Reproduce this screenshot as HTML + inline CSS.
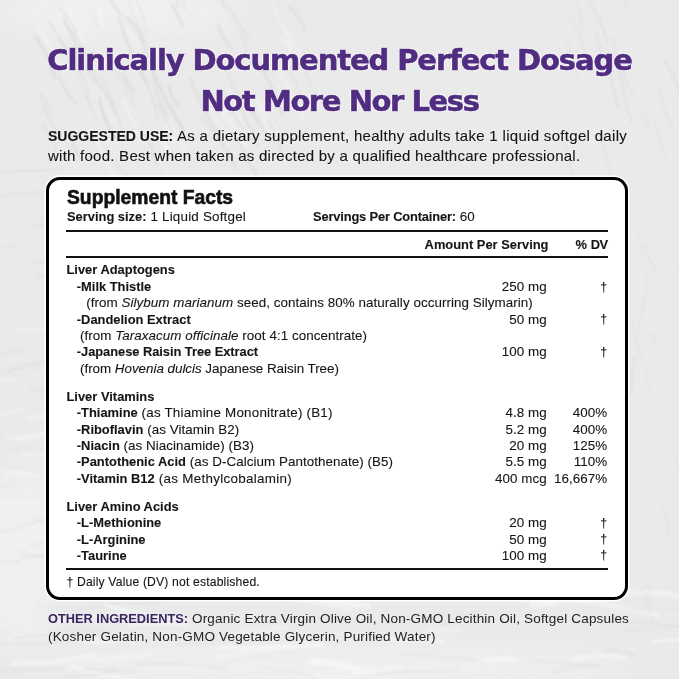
<!DOCTYPE html>
<html><head><meta charset="utf-8">
<style>
*{margin:0;padding:0;box-sizing:border-box}
html,body{width:679px;height:679px;overflow:hidden}
body{position:relative;background:#eaeaea;font-family:"Liberation Sans",Arial,sans-serif;color:#1b1b1b}
.bg{position:absolute;left:0;top:0;width:679px;height:679px}
.t{position:absolute;white-space:pre;line-height:1}
.h{font-family:"DejaVu Sans",sans-serif;font-weight:bold;color:#512d82;font-size:29px;letter-spacing:-1.1px;left:0;width:679px;text-align:center;-webkit-text-stroke:0.6px #512d82;transform-origin:339.5px 0;
 text-shadow:0 0 1px #fff,0 0 1px #fff,1px 0 0 #fff,-1px 0 0 #fff,0 1px 0 #fff,0 -1px 0 #fff}
.su{font-size:15px;left:48px;color:#141414;-webkit-text-stroke:0.15px #141414;text-shadow:0 0 1.5px #fff,0 0 1px #fff}
.box{position:absolute;left:46px;top:177px;width:582px;height:423px;border:3px solid #000;border-radius:14px;background:#fff;box-shadow:0 0 0 1.5px #fff}
.rule{position:absolute;left:65.5px;width:542px;height:2px;background:#111}
.sf{font-size:19.3px;letter-spacing:0;-webkit-text-stroke:.6px #111;font-weight:bold;left:67px;color:#111}
.r{font-size:13.4px;letter-spacing:.05px;color:#151515;-webkit-text-stroke:.1px #151515}
.r b,.b{font-weight:bold;font-size:12.9px;letter-spacing:0}
.amt{position:absolute;right:132.5px;text-align:right}
.dv{position:absolute;right:72px;text-align:right}
.oi{font-size:13.5px;left:48px;color:#222;letter-spacing:.18px}
.oi b{color:#3a2560;font-size:12.8px;letter-spacing:0}
</style></head><body>
<svg class="bg" width="679" height="679" viewBox="0 0 679 679">
  <defs>
    <filter id="b1" x="-20%" y="-20%" width="140%" height="140%"><feGaussianBlur stdDeviation="1.3"/></filter>
    <filter id="b12" x="-50%" y="-50%" width="200%" height="200%"><feGaussianBlur stdDeviation="14"/></filter>
  </defs>
  <rect width="679" height="679" fill="#eaeaea"/>
  <g filter="url(#b12)" fill="#f1f1f1" opacity="0.9">
    <ellipse cx="20" cy="560" rx="40" ry="90"/>
    <ellipse cx="330" cy="668" rx="300" ry="18"/>
    <ellipse cx="120" cy="10" rx="120" ry="25"/>
  </g>
  <g filter="url(#b1)" fill="none" stroke-linecap="round" transform="translate(0 0)" style="opacity:.85">
<path d="M232.2 634.9Q258.3 631.3 284.3 627.1" stroke="#fafafa" stroke-width="6.48" opacity="0.34"/>
<path d="M313.5 661.6Q336.9 661.7 358.5 670.5" stroke="#fafafa" stroke-width="6.56" opacity="0.69"/>
<path d="M308.3 594.8Q337.4 604.9 368.3 605.6" stroke="#fafafa" stroke-width="5.18" opacity="0.63"/>
<path d="M89.0 659.9Q120.4 660.4 150.9 652.7" stroke="#fafafa" stroke-width="6.07" opacity="0.37"/>
<path d="M128.3 625.6Q158.7 621.3 189.0 626.0" stroke="#fafafa" stroke-width="3.60" opacity="0.59"/>
<path d="M590.2 593.7Q635.6 589.3 680.7 596.0" stroke="#fafafa" stroke-width="6.12" opacity="0.35"/>
<path d="M387.7 639.0Q414.9 639.4 442.1 641.9" stroke="#fafafa" stroke-width="5.03" opacity="0.47"/>
<path d="M428.0 629.8Q444.0 630.8 459.9 628.9" stroke="#fafafa" stroke-width="4.62" opacity="0.39"/>
<path d="M499.2 659.4Q521.4 658.7 543.6 658.6" stroke="#fafafa" stroke-width="3.01" opacity="0.35"/>
<path d="M272.8 598.2Q308.1 591.8 343.6 596.4" stroke="#fafafa" stroke-width="5.25" opacity="0.33"/>
<path d="M478.8 659.2Q495.9 659.3 513.1 659.4" stroke="#fafafa" stroke-width="4.15" opacity="0.68"/>
<path d="M72.6 666.3Q115.2 679.1 159.3 684.6" stroke="#fafafa" stroke-width="3.37" opacity="0.69"/>
<path d="M314.5 675.1Q335.1 682.3 357.0 682.6" stroke="#fafafa" stroke-width="6.51" opacity="0.33"/>
<path d="M218.6 657.3Q268.6 647.4 319.3 642.8" stroke="#fafafa" stroke-width="6.02" opacity="0.36"/>
<path d="M321.5 671.9Q346.8 668.8 372.2 665.7" stroke="#fafafa" stroke-width="3.91" opacity="0.31"/>
<path d="M103.8 604.3Q144.4 616.7 186.8 619.7" stroke="#fafafa" stroke-width="3.26" opacity="0.61"/>
<path d="M58.3 637.2Q87.3 643.4 116.9 640.6" stroke="#fafafa" stroke-width="4.91" opacity="0.53"/>
<path d="M580.1 599.3Q619.7 606.3 658.8 615.8" stroke="#fafafa" stroke-width="5.93" opacity="0.41"/>
<path d="M653.5 641.4Q699.0 638.0 744.6 636.1" stroke="#fafafa" stroke-width="3.30" opacity="0.60"/>
<path d="M12.8 663.0Q53.8 664.6 93.5 654.6" stroke="#fafafa" stroke-width="5.03" opacity="0.57"/>
<path d="M192.6 590.2Q213.4 587.5 233.8 582.0" stroke="#fafafa" stroke-width="4.39" opacity="0.51"/>
<path d="M589.0 601.8Q629.2 591.4 670.7 592.4" stroke="#fafafa" stroke-width="2.57" opacity="0.44"/>
<path d="M52.3 621.8Q90.5 618.4 128.5 612.9" stroke="#fafafa" stroke-width="3.42" opacity="0.55"/>
<path d="M302.9 602.0Q328.0 602.4 351.6 611.0" stroke="#fafafa" stroke-width="2.96" opacity="0.56"/>
<path d="M572.5 659.6Q597.8 652.7 623.6 657.5" stroke="#fafafa" stroke-width="5.29" opacity="0.52"/>
<path d="M218.2 647.5Q270.8 649.0 323.2 645.0" stroke="#fafafa" stroke-width="3.60" opacity="0.66"/>
<path d="M9.9 637.3Q34.2 631.0 58.9 635.4" stroke="#fafafa" stroke-width="5.87" opacity="0.30"/>
<path d="M354.6 673.7Q377.5 671.6 400.1 666.9" stroke="#fafafa" stroke-width="4.71" opacity="0.56"/>
<path d="M533.1 605.5Q559.6 598.0 586.9 601.2" stroke="#fafafa" stroke-width="6.32" opacity="0.61"/>
<path d="M466.5 590.6Q510.9 596.6 555.2 603.4" stroke="#fafafa" stroke-width="5.70" opacity="0.48"/>
<path d="M91.0 -2.1Q98.4 6.2 102.5 16.6" stroke="#f7f7f7" stroke-width="4.45" opacity="0.51"/>
<path d="M258.2 101.0Q271.2 121.0 282.8 141.9" stroke="#f7f7f7" stroke-width="4.56" opacity="0.46"/>
<path d="M101.6 89.1Q102.8 105.2 112.4 118.0" stroke="#f7f7f7" stroke-width="2.58" opacity="0.38"/>
<path d="M93.7 106.5Q105.9 132.5 114.1 160.0" stroke="#f7f7f7" stroke-width="4.79" opacity="0.40"/>
<path d="M94.6 134.3Q104.6 159.8 118.1 183.6" stroke="#f7f7f7" stroke-width="5.05" opacity="0.44"/>
<path d="M256.7 98.6Q262.1 119.0 272.5 137.4" stroke="#f7f7f7" stroke-width="4.01" opacity="0.39"/>
<path d="M87.2 85.8Q109.0 110.7 123.7 140.3" stroke="#f7f7f7" stroke-width="2.62" opacity="0.33"/>
<path d="M280.8 38.6Q291.3 44.6 292.5 56.6" stroke="#f7f7f7" stroke-width="4.32" opacity="0.49"/>
<path d="M218.2 105.3Q233.4 124.9 245.9 146.3" stroke="#f7f7f7" stroke-width="4.64" opacity="0.55"/>
<path d="M270.6 -8.8Q278.0 23.7 295.2 52.2" stroke="#f7f7f7" stroke-width="2.82" opacity="0.36"/>
<path d="M60.2 -14.1Q70.2 14.5 83.2 41.9" stroke="#f7f7f7" stroke-width="4.66" opacity="0.49"/>
<path d="M107.6 -3.0Q126.5 19.1 139.6 45.2" stroke="#f7f7f7" stroke-width="3.37" opacity="0.43"/>
<path d="M35.6 23.6Q51.3 46.8 64.2 71.6" stroke="#f7f7f7" stroke-width="3.37" opacity="0.59"/>
<path d="M166.0 124.7Q171.6 134.0 175.4 144.1" stroke="#f7f7f7" stroke-width="3.65" opacity="0.53"/>
<path d="M123.6 99.8Q126.7 115.5 137.6 127.3" stroke="#f7f7f7" stroke-width="2.79" opacity="0.55"/>
<path d="M76.0 -19.8Q86.5 7.9 106.8 29.5" stroke="#f7f7f7" stroke-width="2.57" opacity="0.45"/>
<path d="M162.7 115.5Q176.2 133.4 186.6 153.3" stroke="#f7f7f7" stroke-width="4.67" opacity="0.38"/>
<path d="M284.8 28.2Q299.3 51.6 313.8 75.0" stroke="#f7f7f7" stroke-width="2.82" opacity="0.49"/>
<path d="M51.8 113.9Q62.8 141.6 76.5 167.9" stroke="#f7f7f7" stroke-width="3.45" opacity="0.42"/>
<path d="M136.5 131.4Q159.2 155.0 172.3 185.0" stroke="#f7f7f7" stroke-width="3.08" opacity="0.38"/>
<path d="M273.3 65.2Q291.8 91.6 304.8 121.2" stroke="#f7f7f7" stroke-width="3.72" opacity="0.46"/>
<path d="M233.7 108.0Q243.6 124.0 249.7 141.8" stroke="#f7f7f7" stroke-width="2.94" opacity="0.55"/>
<path d="M208.8 106.1Q217.3 125.6 231.3 141.5" stroke="#f7f7f7" stroke-width="4.03" opacity="0.34"/>
<path d="M154.7 130.5Q164.5 141.8 170.2 155.7" stroke="#f7f7f7" stroke-width="4.33" opacity="0.55"/>
<path d="M71.7 6.5Q80.9 22.2 90.6 37.6" stroke="#f7f7f7" stroke-width="2.96" opacity="0.40"/>
<path d="M-8.6 592.5Q2.4 597.6 14.2 595.3" stroke="#f7f7f7" stroke-width="2.80" opacity="0.42"/>
<path d="M39.0 538.5Q55.7 538.1 71.8 542.5" stroke="#f7f7f7" stroke-width="4.18" opacity="0.33"/>
<path d="M-7.6 416.5Q8.5 414.9 23.4 408.8" stroke="#f7f7f7" stroke-width="4.32" opacity="0.45"/>
<path d="M17.9 439.0Q36.5 434.7 55.4 431.9" stroke="#f7f7f7" stroke-width="4.44" opacity="0.57"/>
<path d="M5.8 472.2Q22.3 472.2 38.2 476.4" stroke="#f7f7f7" stroke-width="4.39" opacity="0.56"/>
<path d="M26.4 510.0Q46.1 514.8 66.1 517.4" stroke="#f7f7f7" stroke-width="3.71" opacity="0.39"/>
<path d="M17.7 329.4Q39.5 330.1 61.1 327.5" stroke="#f7f7f7" stroke-width="4.15" opacity="0.38"/>
<path d="M5.4 436.6Q21.4 439.0 37.6 438.6" stroke="#f7f7f7" stroke-width="4.93" opacity="0.35"/>
<path d="M19.3 533.5Q36.8 536.2 53.9 531.4" stroke="#f7f7f7" stroke-width="2.65" opacity="0.46"/>
<path d="M-10.3 534.5Q7.7 535.5 24.3 542.7" stroke="#f7f7f7" stroke-width="4.01" opacity="0.46"/>
<path d="M23.0 453.7Q45.4 455.5 67.8 456.9" stroke="#f7f7f7" stroke-width="3.60" opacity="0.58"/>
<path d="M-7.4 505.3Q13.8 501.1 35.4 502.9" stroke="#f7f7f7" stroke-width="5.07" opacity="0.41"/>
<path d="M-16.6 382.3Q-6.5 381.1 3.8 381.2" stroke="#f7f7f7" stroke-width="3.62" opacity="0.51"/>
<path d="M1.1 379.5Q22.5 380.0 42.9 373.5" stroke="#f7f7f7" stroke-width="3.89" opacity="0.37"/>
<path d="M28.1 417.6Q40.2 418.0 51.7 414.0" stroke="#f7f7f7" stroke-width="4.61" opacity="0.49"/>
<path d="M117.4 5.6Q122.1 16.5 127.5 27.0" stroke="#cfcfcf" stroke-width="1.65" opacity="0.27"/>
<path d="M167.0 -13.6Q176.9 -5.6 178.2 7.0" stroke="#cfcfcf" stroke-width="1.73" opacity="0.54"/>
<path d="M63.4 18.0Q77.1 48.7 92.5 78.7" stroke="#cfcfcf" stroke-width="1.70" opacity="0.59"/>
<path d="M42.6 125.9Q53.5 135.3 56.5 149.3" stroke="#cfcfcf" stroke-width="1.55" opacity="0.54"/>
<path d="M78.8 78.9Q86.6 96.6 95.4 113.8" stroke="#cfcfcf" stroke-width="1.12" opacity="0.27"/>
<path d="M85.6 95.7Q93.2 111.8 102.7 127.0" stroke="#cfcfcf" stroke-width="1.78" opacity="0.35"/>
<path d="M244.5 98.8Q256.9 119.8 269.8 140.4" stroke="#cfcfcf" stroke-width="2.52" opacity="0.51"/>
<path d="M107.7 146.6Q116.4 165.4 130.2 180.8" stroke="#cfcfcf" stroke-width="1.27" opacity="0.42"/>
<path d="M40.6 93.6Q46.2 117.7 60.0 138.2" stroke="#cfcfcf" stroke-width="1.55" opacity="0.49"/>
<path d="M190.5 78.6Q200.4 108.4 219.7 133.2" stroke="#cfcfcf" stroke-width="1.82" opacity="0.48"/>
<path d="M46.4 99.3Q57.8 132.4 76.1 162.2" stroke="#cfcfcf" stroke-width="1.50" opacity="0.39"/>
<path d="M210.5 -16.2Q221.3 -5.8 223.9 8.9" stroke="#cfcfcf" stroke-width="1.12" opacity="0.52"/>
<path d="M64.9 22.1Q84.8 47.4 95.9 77.6" stroke="#cfcfcf" stroke-width="1.78" opacity="0.44"/>
<path d="M268.5 119.3Q275.8 134.6 281.2 150.7" stroke="#cfcfcf" stroke-width="1.63" opacity="0.56"/>
<path d="M288.6 5.7Q299.7 17.3 305.5 32.3" stroke="#cfcfcf" stroke-width="1.84" opacity="0.46"/>
<path d="M100.9 -19.3Q109.5 -2.1 119.4 14.4" stroke="#cfcfcf" stroke-width="2.63" opacity="0.49"/>
<path d="M169.2 85.0Q169.6 97.3 178.7 105.6" stroke="#cfcfcf" stroke-width="2.35" opacity="0.56"/>
<path d="M245.4 46.7Q250.1 58.5 257.6 68.7" stroke="#cfcfcf" stroke-width="1.12" opacity="0.27"/>
<path d="M86.4 7.6Q97.2 14.4 97.6 27.2" stroke="#cfcfcf" stroke-width="1.27" opacity="0.29"/>
<path d="M128.2 -15.7Q141.5 6.3 147.1 31.4" stroke="#cfcfcf" stroke-width="1.44" opacity="0.37"/>
<path d="M128.3 0.9Q141.9 33.0 154.7 65.3" stroke="#cfcfcf" stroke-width="1.84" opacity="0.28"/>
<path d="M57.6 38.2Q76.9 62.5 89.3 90.9" stroke="#cfcfcf" stroke-width="1.05" opacity="0.58"/>
<path d="M172.6 4.9Q177.2 14.6 182.3 24.0" stroke="#cfcfcf" stroke-width="2.69" opacity="0.55"/>
<path d="M218.0 24.4Q222.1 38.3 231.9 49.1" stroke="#cfcfcf" stroke-width="1.92" opacity="0.52"/>
<path d="M119.0 17.9Q128.5 51.5 145.9 81.7" stroke="#cfcfcf" stroke-width="2.40" opacity="0.54"/>
<path d="M229.8 18.5Q243.4 32.8 247.1 52.1" stroke="#cfcfcf" stroke-width="1.07" opacity="0.35"/>
<path d="M100.0 97.7Q102.5 119.4 114.9 137.4" stroke="#cfcfcf" stroke-width="2.70" opacity="0.58"/>
<path d="M128.5 17.5Q139.3 28.3 144.1 42.9" stroke="#cfcfcf" stroke-width="2.07" opacity="0.57"/>
<path d="M256.9 61.5Q274.2 86.5 282.5 115.8" stroke="#cfcfcf" stroke-width="2.14" opacity="0.57"/>
<path d="M241.2 107.5Q244.9 121.9 254.7 133.1" stroke="#cfcfcf" stroke-width="1.58" opacity="0.53"/>
<path d="M292.3 47.3Q306.3 78.1 325.0 106.2" stroke="#cfcfcf" stroke-width="1.31" opacity="0.29"/>
<path d="M70.8 133.8Q72.5 147.9 81.4 159.0" stroke="#cfcfcf" stroke-width="2.69" opacity="0.48"/>
<path d="M124.6 73.3Q125.5 85.0 135.9 90.6" stroke="#cfcfcf" stroke-width="2.12" opacity="0.43"/>
<path d="M282.1 53.7Q296.7 80.9 305.0 110.6" stroke="#cfcfcf" stroke-width="1.44" opacity="0.35"/>
<path d="M94.9 79.7Q109.3 94.9 116.1 114.8" stroke="#cfcfcf" stroke-width="2.57" opacity="0.37"/>
<path d="M153.7 79.2Q156.5 100.1 168.7 117.4" stroke="#cfcfcf" stroke-width="1.87" opacity="0.44"/>
<path d="M171.3 -16.8Q183.5 -6.8 185.2 8.8" stroke="#cfcfcf" stroke-width="2.38" opacity="0.31"/>
<path d="M157.8 103.3Q165.8 119.6 174.1 135.7" stroke="#cfcfcf" stroke-width="1.97" opacity="0.52"/>
<path d="M58.6 75.3Q64.6 91.4 76.2 104.2" stroke="#cfcfcf" stroke-width="1.89" opacity="0.45"/>
<path d="M235.2 135.1Q247.2 157.4 259.2 179.7" stroke="#cfcfcf" stroke-width="1.89" opacity="0.49"/>
<path d="M152.1 70.7Q165.7 101.4 183.4 130.0" stroke="#cfcfcf" stroke-width="2.52" opacity="0.58"/>
<path d="M100.1 75.1Q115.2 102.5 122.2 133.1" stroke="#cfcfcf" stroke-width="1.22" opacity="0.40"/>
<path d="M49.6 20.9Q61.7 45.0 79.4 65.3" stroke="#cfcfcf" stroke-width="2.55" opacity="0.30"/>
<path d="M223.4 92.2Q236.0 122.2 258.2 146.1" stroke="#cfcfcf" stroke-width="1.39" opacity="0.58"/>
<path d="M137.5 62.8Q152.0 90.4 158.8 120.7" stroke="#cfcfcf" stroke-width="1.75" opacity="0.43"/>
<path d="M121.6 13.3Q140.7 34.6 149.8 61.8" stroke="#cfcfcf" stroke-width="1.95" opacity="0.40"/>
<path d="M34.9 36.4Q49.5 54.7 54.6 77.5" stroke="#cfcfcf" stroke-width="2.70" opacity="0.53"/>
<path d="M292.4 -2.2Q295.2 9.0 303.7 16.6" stroke="#cfcfcf" stroke-width="1.48" opacity="0.30"/>
<path d="M144.0 134.9Q154.2 148.5 156.7 165.3" stroke="#cfcfcf" stroke-width="2.58" opacity="0.45"/>
<path d="M219.1 -4.8Q235.1 17.2 249.6 40.2" stroke="#cfcfcf" stroke-width="1.14" opacity="0.58"/>
<path d="M201.3 116.3Q223.1 139.5 236.2 168.5" stroke="#cfcfcf" stroke-width="2.48" opacity="0.41"/>
<path d="M121.6 74.0Q131.7 88.0 133.6 105.2" stroke="#cfcfcf" stroke-width="1.92" opacity="0.33"/>
<path d="M59.6 7.4Q69.9 18.6 76.5 32.3" stroke="#cfcfcf" stroke-width="1.55" opacity="0.52"/>
<path d="M108.3 65.0Q123.2 77.7 128.3 96.6" stroke="#cfcfcf" stroke-width="1.44" opacity="0.26"/>
<path d="M227.9 73.7Q235.2 95.0 251.2 110.7" stroke="#cfcfcf" stroke-width="1.21" opacity="0.54"/>
<path d="M611.4 79.1Q614.7 93.1 618.0 107.1" stroke="#d2d2d2" stroke-width="1.95" opacity="0.50"/>
<path d="M600.8 139.8Q606.8 157.5 611.0 175.7" stroke="#d2d2d2" stroke-width="1.50" opacity="0.26"/>
<path d="M575.4 2.7Q581.8 13.4 581.7 25.8" stroke="#d2d2d2" stroke-width="1.14" opacity="0.46"/>
<path d="M663.6 110.7Q670.3 120.5 673.3 132.1" stroke="#d2d2d2" stroke-width="1.65" opacity="0.29"/>
<path d="M613.1 37.4Q617.2 61.6 622.2 85.6" stroke="#d2d2d2" stroke-width="1.36" opacity="0.49"/>
<path d="M596.8 54.2Q604.1 66.3 611.0 78.7" stroke="#d2d2d2" stroke-width="1.70" opacity="0.30"/>
<path d="M620.1 -9.1Q624.8 -1.3 627.6 7.4" stroke="#d2d2d2" stroke-width="1.07" opacity="0.26"/>
<path d="M596.2 31.9Q599.1 48.6 606.7 63.7" stroke="#d2d2d2" stroke-width="1.92" opacity="0.43"/>
<path d="M664.6 60.1Q677.7 81.4 684.3 105.5" stroke="#d2d2d2" stroke-width="2.01" opacity="0.41"/>
<path d="M565.2 140.4Q566.8 158.9 573.0 176.5" stroke="#d2d2d2" stroke-width="2.12" opacity="0.28"/>
<path d="M622.3 80.8Q624.1 102.5 632.3 122.8" stroke="#d2d2d2" stroke-width="1.82" opacity="0.47"/>
<path d="M641.3 114.8Q648.0 120.5 648.2 129.3" stroke="#d2d2d2" stroke-width="1.51" opacity="0.28"/>
<path d="M659.5 90.5Q663.3 108.7 670.5 125.8" stroke="#d2d2d2" stroke-width="1.68" opacity="0.25"/>
<path d="M654.9 124.7Q659.2 141.1 666.4 156.4" stroke="#d2d2d2" stroke-width="1.10" opacity="0.43"/>
<path d="M590.0 3.4Q601.2 20.6 606.9 40.2" stroke="#d2d2d2" stroke-width="2.02" opacity="0.49"/>
<path d="M618.8 58.9Q623.1 78.0 632.4 95.3" stroke="#d2d2d2" stroke-width="1.85" opacity="0.41"/>
<path d="M569.2 16.5Q579.6 34.3 586.5 53.7" stroke="#d2d2d2" stroke-width="1.78" opacity="0.25"/>
<path d="M567.2 38.4Q571.1 57.7 578.4 76.0" stroke="#d2d2d2" stroke-width="1.41" opacity="0.38"/>
<path d="M7.9 370.5Q30.4 363.8 53.9 361.7" stroke="#d4d4d4" stroke-width="2.35" opacity="0.48"/>
<path d="M-18.9 367.4Q5.0 372.8 28.7 379.0" stroke="#d4d4d4" stroke-width="1.38" opacity="0.30"/>
<path d="M36.7 260.6Q48.8 261.9 60.9 262.9" stroke="#d4d4d4" stroke-width="2.31" opacity="0.28"/>
<path d="M29.2 388.8Q49.6 392.4 68.7 400.1" stroke="#d4d4d4" stroke-width="2.24" opacity="0.37"/>
<path d="M-18.5 171.5Q-1.7 170.6 15.0 172.8" stroke="#d4d4d4" stroke-width="1.21" opacity="0.34"/>
<path d="M-1.0 531.3Q20.2 528.4 40.0 520.3" stroke="#d4d4d4" stroke-width="1.19" opacity="0.48"/>
<path d="M22.8 557.7Q38.2 555.5 53.8 555.0" stroke="#d4d4d4" stroke-width="2.38" opacity="0.40"/>
<path d="M1.6 354.1Q12.0 349.9 23.0 352.1" stroke="#d4d4d4" stroke-width="2.16" opacity="0.32"/>
<path d="M36.1 277.2Q53.5 273.0 71.3 273.7" stroke="#d4d4d4" stroke-width="1.53" opacity="0.49"/>
<path d="M33.1 519.1Q56.1 525.6 80.1 525.0" stroke="#d4d4d4" stroke-width="1.77" opacity="0.43"/>
<path d="M-17.0 484.9Q4.2 486.4 25.5 485.5" stroke="#d4d4d4" stroke-width="1.41" opacity="0.26"/>
<path d="M35.6 224.7Q50.8 223.5 65.9 225.6" stroke="#d4d4d4" stroke-width="2.02" opacity="0.49"/>
<path d="M-4.4 452.1Q13.8 449.8 32.2 449.2" stroke="#d4d4d4" stroke-width="1.24" opacity="0.29"/>
<path d="M-7.5 559.6Q5.6 563.4 19.0 560.7" stroke="#d4d4d4" stroke-width="2.38" opacity="0.36"/>
<path d="M-11.6 252.7Q2.5 246.4 18.0 246.5" stroke="#d4d4d4" stroke-width="1.34" opacity="0.31"/>
<path d="M14.2 551.5Q30.2 554.0 45.9 557.8" stroke="#d4d4d4" stroke-width="1.73" opacity="0.34"/>
<path d="M0.3 196.7Q24.4 191.4 49.1 192.2" stroke="#d4d4d4" stroke-width="1.70" opacity="0.41"/>
<path d="M31.8 262.9Q45.4 260.7 59.1 260.2" stroke="#d4d4d4" stroke-width="1.63" opacity="0.49"/>
<path d="M30.9 545.3Q41.5 544.4 51.2 540.2" stroke="#d4d4d4" stroke-width="2.24" opacity="0.37"/>
<path d="M15.2 170.1Q39.2 172.1 63.0 169.0" stroke="#d4d4d4" stroke-width="2.18" opacity="0.49"/>
<path d="M643.7 243.6Q648.0 257.0 655.0 269.3" stroke="#d4d4d4" stroke-width="1.97" opacity="0.38"/>
<path d="M662.4 505.9Q669.0 519.3 668.3 534.1" stroke="#d4d4d4" stroke-width="1.82" opacity="0.26"/>
<path d="M675.2 458.2Q679.9 466.3 680.8 475.5" stroke="#d4d4d4" stroke-width="1.67" opacity="0.37"/>
<path d="M637.3 228.1Q640.5 242.6 641.9 257.3" stroke="#d4d4d4" stroke-width="1.24" opacity="0.35"/>
<path d="M632.5 320.6Q635.3 339.9 640.3 358.8" stroke="#d4d4d4" stroke-width="1.92" opacity="0.32"/>
<path d="M643.0 298.8Q642.2 315.2 638.3 331.1" stroke="#d4d4d4" stroke-width="1.04" opacity="0.32"/>
<path d="M663.7 368.0Q665.8 384.1 674.4 397.8" stroke="#d4d4d4" stroke-width="1.26" opacity="0.21"/>
<path d="M647.9 368.2Q646.0 378.3 648.8 388.2" stroke="#d4d4d4" stroke-width="1.77" opacity="0.33"/>
<path d="M641.6 587.9Q649.0 604.2 652.3 621.8" stroke="#d4d4d4" stroke-width="1.24" opacity="0.39"/>
<path d="M645.9 580.8Q649.8 590.1 649.3 600.1" stroke="#d4d4d4" stroke-width="1.44" opacity="0.37"/>
<path d="M676.6 258.6Q675.4 269.3 681.6 278.3" stroke="#d4d4d4" stroke-width="1.17" opacity="0.21"/>
<path d="M634.8 357.3Q631.1 375.6 631.0 394.2" stroke="#d4d4d4" stroke-width="2.04" opacity="0.43"/>
<path d="M647.5 274.2Q649.0 291.4 643.1 307.6" stroke="#d4d4d4" stroke-width="1.70" opacity="0.29"/>
<path d="M649.6 332.7Q654.2 338.9 655.5 346.5" stroke="#d4d4d4" stroke-width="1.38" opacity="0.44"/>
<path d="M64.1 676.2Q90.0 676.8 115.3 670.9" stroke="#d6d6d6" stroke-width="2.75" opacity="0.31"/>
<path d="M13.5 637.4Q55.9 632.4 98.6 633.6" stroke="#d6d6d6" stroke-width="1.97" opacity="0.42"/>
<path d="M0.6 632.5Q38.9 632.0 76.1 640.7" stroke="#d6d6d6" stroke-width="1.41" opacity="0.22"/>
<path d="M605.7 620.3Q647.6 622.3 689.3 627.5" stroke="#d6d6d6" stroke-width="1.82" opacity="0.44"/>
<path d="M399.5 620.7Q424.1 620.3 448.4 624.4" stroke="#d6d6d6" stroke-width="1.36" opacity="0.39"/>
<path d="M603.2 650.1Q619.1 649.9 634.3 654.9" stroke="#d6d6d6" stroke-width="2.18" opacity="0.44"/>
<path d="M628.7 630.5Q656.4 628.0 684.2 625.7" stroke="#d6d6d6" stroke-width="2.94" opacity="0.25"/>
<path d="M525.7 658.3Q563.6 663.7 601.6 666.9" stroke="#d6d6d6" stroke-width="1.92" opacity="0.28"/>
<path d="M226.1 661.8Q247.1 661.2 267.5 655.7" stroke="#d6d6d6" stroke-width="1.78" opacity="0.22"/>
<path d="M3.0 643.7Q47.6 644.8 91.7 638.3" stroke="#d6d6d6" stroke-width="3.04" opacity="0.27"/>
<path d="M37.2 607.6Q73.5 607.1 109.8 607.6" stroke="#d6d6d6" stroke-width="1.75" opacity="0.30"/>
<path d="M401.8 653.3Q441.9 658.4 482.3 660.2" stroke="#d6d6d6" stroke-width="1.56" opacity="0.41"/>
<path d="M179.8 644.8Q216.7 640.1 254.0 641.5" stroke="#d6d6d6" stroke-width="1.78" opacity="0.26"/>
<path d="M84.3 669.8Q109.1 669.5 133.8 671.2" stroke="#d6d6d6" stroke-width="3.04" opacity="0.33"/>
<path d="M137.3 663.9Q182.2 662.3 226.7 668.7" stroke="#d6d6d6" stroke-width="2.16" opacity="0.40"/>
<path d="M551.6 672.2Q574.5 664.7 598.6 664.6" stroke="#d6d6d6" stroke-width="1.68" opacity="0.44"/>
<path d="M376.6 673.5Q417.5 671.1 458.5 669.8" stroke="#d6d6d6" stroke-width="1.80" opacity="0.39"/>
<path d="M623.1 608.4Q656.8 606.7 690.2 610.6" stroke="#d6d6d6" stroke-width="1.99" opacity="0.24"/>
<path d="M118.7 620.1Q153.3 618.4 187.8 622.5" stroke="#d6d6d6" stroke-width="1.38" opacity="0.28"/>
<path d="M441.3 614.6Q462.5 616.2 483.4 611.9" stroke="#d6d6d6" stroke-width="2.29" opacity="0.22"/>
<path d="M48.9 631.2Q83.2 627.7 117.3 632.4" stroke="#d6d6d6" stroke-width="1.63" opacity="0.37"/>
<path d="M258.7 622.4Q302.0 617.6 345.7 616.5" stroke="#d6d6d6" stroke-width="2.33" opacity="0.29"/>
<path d="M263.2 668.3Q289.2 669.8 314.2 677.2" stroke="#d6d6d6" stroke-width="2.60" opacity="0.25"/>
<path d="M-16.0 671.2Q23.6 669.2 63.2 669.1" stroke="#d6d6d6" stroke-width="2.86" opacity="0.32"/>
<path d="M90.5 601.2Q124.7 605.9 159.0 602.4" stroke="#d6d6d6" stroke-width="1.51" opacity="0.36"/>
  </g>
</svg>

<div class="t h" style="top:46px">Clinically Documented Perfect Dosage</div>
<div class="t h" style="top:87.2px;letter-spacing:-1.43px">Not More Nor Less</div>

<div class="t su" style="top:128.3px;letter-spacing:0.31px"><b style="font-size:14px;letter-spacing:0">SUGGESTED USE:</b> As a dietary supplement, healthy adults take 1 liquid softgel daily</div>
<div class="t su" style="top:148.3px;letter-spacing:0.25px">with food. Best when taken as directed by a qualified healthcare professional.</div>

<div class="box"></div>

<div class="t sf" style="top:187.9px">Supplement Facts</div>
<div class="t r" style="top:210px;left:67px;letter-spacing:.2px"><b>Serving size:</b> 1 Liquid Softgel</div>
<div class="t r" style="top:210px;left:313px"><b style="letter-spacing:-.17px">Servings Per Container:</b> 60</div>
<div class="rule" style="top:229.5px"></div>
<div class="t r b" style="top:238.6px;left:0;width:548.5px;text-align:right">Amount Per Serving</div>
<div class="t r b" style="top:238.6px;left:0;width:607.5px;text-align:right;letter-spacing:-.6px;word-spacing:1.5px">% DV</div>
<div class="rule" style="top:255.5px"></div>

<!-- rows -->
<div class="t r b" style="top:264.3px;left:66.5px">Liver Adaptogens</div>
<div class="t r" style="top:280px;left:76.8px"><b>-Milk Thistle</b></div>
<div class="t r" style="top:280px;left:0;width:546.8px;text-align:right">250 mg</div>
<div class="t r" style="top:280.5px;left:0;width:607.3px;text-align:right;font-size:12.4px">†</div>
<div class="t r" style="top:296.4px;left:86.3px">(from <i>Silybum marianum</i> seed, contains 80% naturally occurring Silymarin)</div>
<div class="t r" style="top:312.7px;left:76.8px"><b>-Dandelion Extract</b></div>
<div class="t r" style="top:312.7px;left:0;width:546.8px;text-align:right">50 mg</div>
<div class="t r" style="top:313.2px;left:0;width:607.3px;text-align:right;font-size:12.4px">†</div>
<div class="t r" style="top:329px;left:80px">(from <i>Taraxacum officinale</i> root 4:1 concentrate)</div>
<div class="t r" style="top:345.4px;left:76.8px"><b style="letter-spacing:-.05px">-Japanese Raisin Tree Extract</b></div>
<div class="t r" style="top:345.4px;left:0;width:546.8px;text-align:right">100 mg</div>
<div class="t r" style="top:345.9px;left:0;width:607.3px;text-align:right;font-size:12.4px">†</div>
<div class="t r" style="top:361.7px;left:80px;letter-spacing:-.02px">(from <i>Hovenia dulcis</i> Japanese Raisin Tree)</div>

<div class="t r b" style="top:390.7px;left:66.5px">Liver Vitamins</div>
<div class="t r" style="top:406.2px;left:76.8px;letter-spacing:.2px"><b>-Thiamine</b> (as Thiamine Mononitrate) (B1)</div>
<div class="t r" style="top:406.2px;left:0;width:546.8px;text-align:right">4.8 mg</div>
<div class="t r" style="top:406.2px;left:0;width:607.3px;text-align:right">400%</div>
<div class="t r" style="top:422.6px;left:76.8px"><b>-Riboflavin</b> (as Vitamin B2)</div>
<div class="t r" style="top:422.6px;left:0;width:546.8px;text-align:right">5.2 mg</div>
<div class="t r" style="top:422.6px;left:0;width:607.3px;text-align:right">400%</div>
<div class="t r" style="top:438.9px;left:76.8px"><b>-Niacin</b> (as Niacinamide) (B3)</div>
<div class="t r" style="top:438.9px;left:0;width:546.8px;text-align:right">20 mg</div>
<div class="t r" style="top:438.9px;left:0;width:607.3px;text-align:right">125%</div>
<div class="t r" style="top:455.2px;left:76.8px"><b>-Pantothenic Acid</b> (as D-Calcium Pantothenate) (B5)</div>
<div class="t r" style="top:455.2px;left:0;width:546.8px;text-align:right">5.5 mg</div>
<div class="t r" style="top:455.2px;left:0;width:607.3px;text-align:right">110%</div>
<div class="t r" style="top:471.6px;left:76.8px;letter-spacing:.3px"><b>-Vitamin B12</b> (as Methylcobalamin)</div>
<div class="t r" style="top:471.6px;left:0;width:546.8px;text-align:right">400 mcg</div>
<div class="t r" style="top:471.6px;left:0;width:607.3px;text-align:right">16,667%</div>

<div class="t r b" style="top:500.7px;left:66.5px">Liver Amino Acids</div>
<div class="t r" style="top:516.2px;left:76.8px"><b>-L-Methionine</b></div>
<div class="t r" style="top:516.2px;left:0;width:546.8px;text-align:right">20 mg</div>
<div class="t r" style="top:516.7px;left:0;width:607.3px;text-align:right;font-size:12.4px">†</div>
<div class="t r" style="top:532.6px;left:76.8px"><b>-L-Arginine</b></div>
<div class="t r" style="top:532.6px;left:0;width:546.8px;text-align:right">50 mg</div>
<div class="t r" style="top:533.1px;left:0;width:607.3px;text-align:right;font-size:12.4px">†</div>
<div class="t r" style="top:548.9px;left:76.8px"><b>-Taurine</b></div>
<div class="t r" style="top:548.9px;left:0;width:546.8px;text-align:right">100 mg</div>
<div class="t r" style="top:549.4px;left:0;width:607.3px;text-align:right;font-size:12.4px">†</div>

<div class="rule" style="top:568px"></div>
<div class="t r" style="top:575.6px;left:66.5px;font-size:12.2px;letter-spacing:.15px">† Daily Value (DV) not established.</div>

<div class="t oi" style="top:611.6px"><b>OTHER INGREDIENTS:</b> Organic Extra Virgin Olive Oil, Non-GMO Lecithin Oil, Softgel Capsules</div>
<div class="t oi" style="top:630.1px">(Kosher Gelatin, Non-GMO Vegetable Glycerin, Purified Water)</div>
</body></html>
